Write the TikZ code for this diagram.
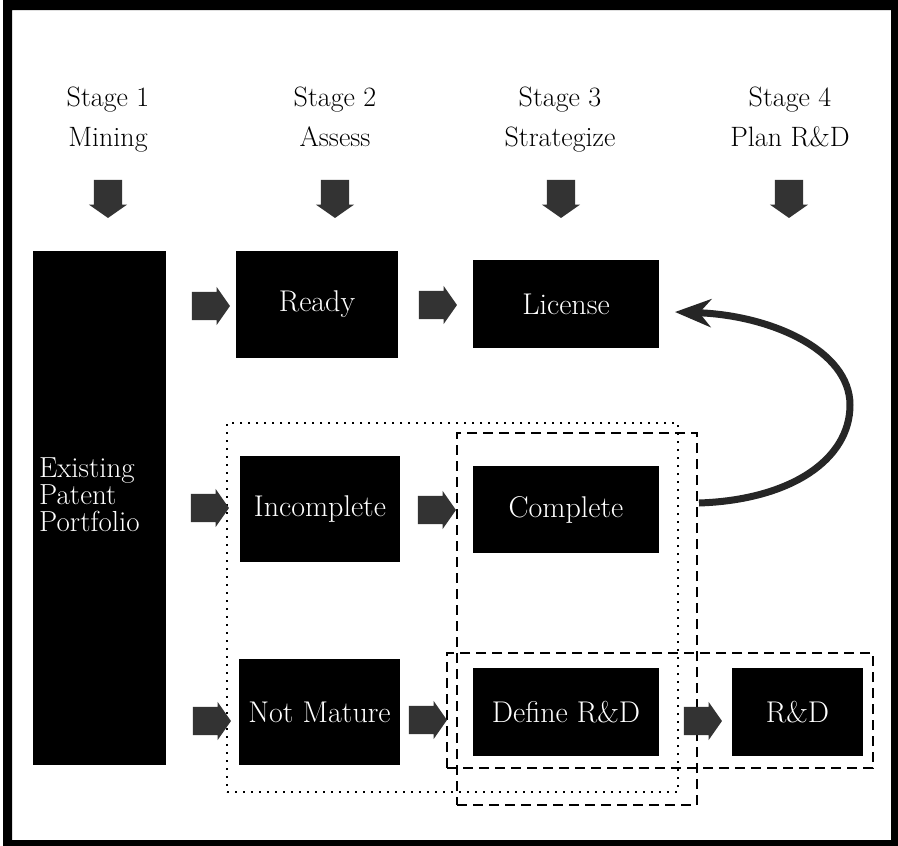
\documentclass[tikz,border=0pt]{standalone}
\usetikzlibrary{shapes.arrows,arrows.meta}
\begin{document}
\begin{tikzpicture}[x=1pt,y=-1pt,
  box/.style={fill=black, text=white, inner sep=0pt, outer sep=0pt,
    font=\fontsize{30}{34}\selectfont},
  heading/.style={align=center, inner sep=0pt, anchor=north, font=\fontsize{28}{40}\selectfont},
  rarrow/.style={single arrow, fill=black!80, draw=none, minimum height=38pt,
    inner xsep=0pt, inner ysep=14pt, single arrow head extend=5pt,
    single arrow tip angle=110},
  darrow/.style={single arrow, fill=black!80, draw=none, minimum height=38pt,
    inner xsep=14pt, inner ysep=0pt, single arrow head extend=5pt,
    single arrow tip angle=110, shape border rotate=270},
  dotbox/.style={draw, line width=2pt, dash pattern=on 2pt off 6pt, inner sep=0pt, outer sep=0pt},
  dashbox/.style={draw, line width=2.5pt, dash pattern=on 10pt off 6pt, inner sep=0pt, outer sep=0pt},
  loopline/.style={draw=black!85, line width=7pt, -{Stealth[length=36pt,width=28pt]}}
]
\useasboundingbox (0,0) rectangle (898,846);
\fill[white] (0,0) rectangle (898,846);
\fill[black, even odd rule] (3,0) rectangle (898,846) (12,10) rectangle (891,840);

% headings
\node[heading] (h1) at (108,87) {Stage 1\\Mining};
\node[heading] (h2) at (335,87) {Stage 2\\Assess};
\node[heading] (h3) at (560,87) {Stage 3\\Strategize};
\node[heading] (h4) at (790,87) {Stage 4\\Plan R\&D};

% down arrows
\node[darrow] (d1) at (108,194) {};
\node[darrow] (d2) at (335,194) {};
\node[darrow] (d3) at (561,194) {};
\node[darrow] (d4) at (789,194) {};

% group frames
\node[dotbox, minimum width=451pt, minimum height=369pt] (grpassess) at (452.5,607.5) {};
\node[dashbox, minimum width=240pt, minimum height=372pt] (grpstrat) at (577,619) {};
\node[dashbox, minimum width=426pt, minimum height=115pt] (grprd) at (660,710.5) {};

% boxes
\node[box, minimum width=133pt, minimum height=514pt] (exist) at (99.5,508) {};
\node[anchor=west, align=left, inner sep=0pt, text=white,
  font=\fontsize{29}{27}\selectfont] (existtext) at (39,495) {Existing\\Patent\\Portfolio};
\node[box, minimum width=162pt, minimum height=107pt] (ready) at (317,304.5) {Ready};
\node[box, minimum width=186pt, minimum height=88pt] (license) at (566,304) {License};
\node[box, minimum width=160pt, minimum height=106pt] (incomplete) at (320,509) {Incomplete};
\node[box, minimum width=186pt, minimum height=87pt] (complete) at (566,509.5) {Complete};
\node[box, minimum width=161pt, minimum height=106pt] (notmature) at (319.5,712) {Not Mature};
\node[box, minimum width=186pt, minimum height=88pt] (definerd) at (566,712) {Define R\&D};
\node[box, minimum width=131pt, minimum height=88pt] (rd) at (797.5,712) {R\&D};

% right arrows
\node[rarrow] (a1r) at (206,306) {};
\node[rarrow] (a1m) at (433,305) {};
\node[rarrow] (a2r) at (205,508) {};
\node[rarrow] (a2m) at (432,510) {};
\node[rarrow] (a3r) at (207,721) {};
\node[rarrow] (a3m) at (423,720) {};
\node[rarrow] (a3x) at (698,721) {};

% loop arrow from Complete back to License
\coordinate (cstart) at (699,503);
\coordinate (ctip) at (675,312);
\draw[loopline] (cstart) .. controls (790,500) and (850,460) .. (850,405)
  .. controls (850,350) and (770,315) .. (ctip);
\end{tikzpicture}
\end{document}
